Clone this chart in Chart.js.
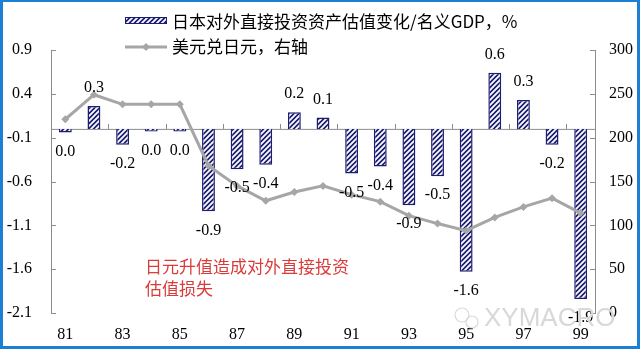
<!DOCTYPE html>
<html>
<head>
<meta charset="utf-8">
<script src="https://cdn.jsdelivr.net/npm/chart.js@4/dist/chart.umd.min.js"></script>
<style>
  html, body { margin: 0; padding: 0; background: #fff; }
  #wrap { position: relative; width: 640px; height: 349px; }
  #frame { position: absolute; left: 0; top: 0; width: 640px; height: 349px; box-sizing: border-box;
           border: 3px solid #1b7fd4; border-top-width: 2px; pointer-events: none; }
</style>
</head>
<body>
<div id="wrap"><canvas id="chart" width="640" height="349"></canvas><div id="frame"></div></div>
<script>
// years 1981-1999
const years = ['81','82','83','84','85','86','87','88','89','90','91','92','93','94','95','96','97','98','99'];
// FDI asset valuation change / nominal GDP, %
const fdiValuation = [-0.04, 0.26, -0.18, -0.03, -0.03, -0.94, -0.46, -0.41, 0.19, 0.13,
                      -0.51, -0.43, -0.87, -0.54, -1.63, 0.64, 0.33, -0.18, -1.94];
// USD/JPY, right axis
const usdJpy = [221, 249, 238, 238, 238, 168, 145, 128, 138, 145,
                135, 127, 111, 102, 94, 109, 121, 131, 114];
const leftTicks = [-2.1, -1.6, -1.1, -0.6, -0.1, 0.4, 0.9];
const rightTicks = [0, 50, 100, 150, 200, 250, 300];

const NAVY = '#1c1c72';
const GREY = '#a6a6a6';
const AXIS = '#8c8c8c';
const SERIF = '"Liberation Serif", "Times New Roman", serif';
const CJK = '"Noto Sans CJK SC", sans-serif';

function hatch() {
  const s = 5;
  const c = document.createElement('canvas');
  c.width = c.height = s;
  const g = c.getContext('2d');
  g.fillStyle = NAVY;
  g.fillRect(0, 0, s, s);
  g.strokeStyle = '#fff';
  g.lineWidth = 1.8;
  g.beginPath();
  g.moveTo(0, s); g.lineTo(s, 0);
  g.moveTo(-1, 1); g.lineTo(1, -1);
  g.moveTo(s - 1, s + 1); g.lineTo(s + 1, s - 1);
  g.stroke();
  return g.createPattern(c, 'repeat');
}
const hatchFill = hatch();

function fmt(v) {
  return (Math.round(v * 10) / 10).toFixed(1);
}

// zero line with ticks, inward axis ticks
const axisDecor = {
  id: 'axisDecor',
  beforeDatasetsDraw(chart) {
    const { ctx, chartArea, scales } = chart;
    const x = scales.x, y = scales.y, y1 = scales.y1;
    const y0 = y.getPixelForValue(0);
    const step = x.width / years.length;
    ctx.save();
    ctx.strokeStyle = AXIS;
    ctx.lineWidth = 1;
    ctx.beginPath();
    ctx.moveTo(chartArea.left, y0 + 0.5);
    ctx.lineTo(chartArea.right, y0 + 0.5);
    years.forEach((yr, i) => {
      if (i % 2 === 0) {
        const bx = Math.round(x.getPixelForValue(i) - step / 2) + 0.5;
        ctx.moveTo(bx, y0);
        ctx.lineTo(bx, y0 - 5);
      }
    });
    y.ticks.forEach(t => {
      const py = Math.round(y.getPixelForValue(t.value)) + 0.5;
      ctx.moveTo(chartArea.left, py);
      ctx.lineTo(chartArea.left + 5, py);
    });
    y1.ticks.forEach(t => {
      const py = Math.round(y1.getPixelForValue(t.value)) + 0.5;
      ctx.moveTo(chartArea.right, py);
      ctx.lineTo(chartArea.right - 5, py);
    });
    ctx.stroke();
    ctx.restore();
  }
};

// value labels on bars
const barLabels = {
  id: 'barLabels',
  afterDatasetsDraw(chart) {
    const { ctx } = chart;
    const meta = chart.getDatasetMeta(0);
    ctx.save();
    ctx.font = '16px ' + SERIF;
    ctx.fillStyle = '#000';
    ctx.textAlign = 'center';
    ctx.textBaseline = 'middle';
    meta.data.forEach((bar, i) => {
      const v = fdiValuation[i];
      const ly = v >= 0 ? bar.y - 18 : bar.y + 19;
      ctx.fillText(fmt(v), bar.x, ly);
    });
    ctx.restore();
  }
};

// legend, note and watermark
const extras = {
  id: 'extras',
  afterDraw(chart) {
    const { ctx } = chart;
    const ds = chart.data.datasets;
    ctx.save();
    // legend
    ctx.fillStyle = hatchFill;
    ctx.fillRect(125, 17, 42, 7);
    ctx.strokeStyle = NAVY;
    ctx.lineWidth = 1;
    ctx.strokeRect(125.5, 17.5, 41, 6);
    ctx.strokeStyle = GREY;
    ctx.lineWidth = 3;
    ctx.beginPath();
    ctx.moveTo(125, 47);
    ctx.lineTo(167, 47);
    ctx.stroke();
    ctx.fillStyle = GREY;
    ctx.beginPath();
    ctx.moveTo(146, 43); ctx.lineTo(150, 47); ctx.lineTo(146, 51); ctx.lineTo(142, 47);
    ctx.closePath();
    ctx.fill();
    ctx.fillStyle = '#000';
    ctx.font = '17px ' + CJK;
    ctx.textBaseline = 'middle';
    ctx.fillText(ds[0].label, 172, 22);
    ctx.fillText(ds[1].label, 172, 47);
    // note
    ctx.fillStyle = '#d93c3a';
    ctx.font = '17px ' + CJK;
    ctx.fillText('日元升值造成对外直接投资', 145, 267);
    ctx.fillText('估值损失', 145, 289);
    // watermark
    ctx.strokeStyle = '#dadada';
    ctx.lineWidth = 1.2;
    ctx.beginPath();
    ctx.arc(462, 315, 7, 0, Math.PI * 2);
    ctx.stroke();
    ctx.beginPath();
    ctx.arc(472, 322, 6, 0, Math.PI * 2);
    ctx.stroke();
    ctx.fillStyle = '#d8d8d8';
    ctx.font = '26px "Liberation Sans", sans-serif';
    ctx.fillText('XYMACRO', 484, 319);
    ctx.restore();
  }
};

new Chart(document.getElementById('chart'), {
  data: {
    labels: years,
    datasets: [
      {
        type: 'bar',
        label: '日本对外直接投资资产估值变化/名义GDP，%',
        data: fdiValuation,
        backgroundColor: hatchFill,
        borderColor: NAVY,
        borderWidth: 1.5,
        barPercentage: 0.9,
        categoryPercentage: 0.5,
        yAxisID: 'y',
        order: 1
      },
      {
        type: 'line',
        label: '美元兑日元，右轴',
        data: usdJpy,
        borderColor: GREY,
        backgroundColor: GREY,
        borderWidth: 3,
        pointStyle: 'rectRot',
        pointRadius: 4,
        pointBorderWidth: 0,
        tension: 0,
        yAxisID: 'y1',
        order: 0
      }
    ]
  },
  options: {
    responsive: false,
    animation: false,
    layout: { padding: { top: 50, left: 0, right: 0, bottom: 0 } },
    plugins: {
      legend: { display: false },
      tooltip: { enabled: false }
    },
    scales: {
      x: {
        offset: true,
        grid: { display: false, drawTicks: false },
        border: { display: false },
        ticks: {
          autoSkip: false,
          maxRotation: 0,
          padding: 12,
          color: '#000',
          font: { family: SERIF, size: 16 },
          callback: (v, i) => (i % 2 === 0 ? years[i] : '')
        },
        afterFit: s => { s.height = 36; }
      },
      y: {
        position: 'left',
        min: -2.1,
        max: 0.9,
        grid: { display: false, drawTicks: false },
        border: { display: true, color: AXIS },
        afterBuildTicks: s => { s.ticks = leftTicks.map(v => ({ value: v })); },
        ticks: {
          padding: 19,
          color: '#000',
          font: { family: SERIF, size: 16 },
          callback: v => v.toFixed(1)
        },
        afterFit: s => { s.width = 51; }
      },
      y1: {
        position: 'right',
        min: 0,
        max: 300,
        grid: { display: false, drawTicks: false },
        border: { display: true, color: AXIS },
        afterBuildTicks: s => { s.ticks = rightTicks.map(v => ({ value: v })); },
        ticks: {
          padding: 14,
          color: '#000',
          font: { family: SERIF, size: 16 }
        },
        afterFit: s => { s.width = 45; }
      }
    }
  },
  plugins: [axisDecor, barLabels, extras]
});
</script>
</body>
</html>
